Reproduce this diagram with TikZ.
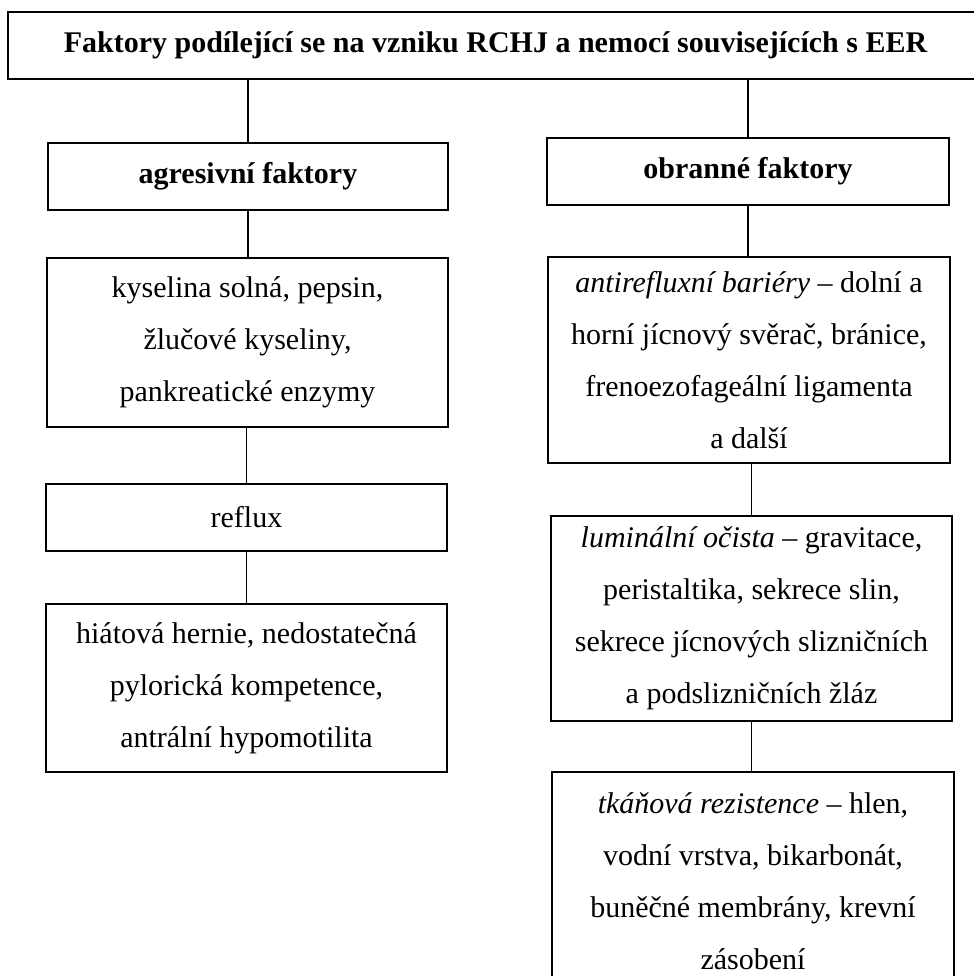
\documentclass[tikz,border=0pt]{standalone}
\usepackage{fontspec}
\setmainfont{Liberation Serif}

\tikzset{
  box/.style={draw, line width=0.8pt, inner sep=0pt, align=center,
    font=\fontsize{12}{20.8}\selectfont},
  conn/.style={line width=0.5pt}
}

\begin{document}
\begin{tikzpicture}[x=0.4pt,y=-0.4pt]
\useasboundingbox (0,0) rectangle (974,976);

\node[box, font=\fontsize{12}{20.8}\selectfont\bfseries,
  minimum width=390pt, minimum height=26.8pt] (title) at (495.5,45.5)
  {Faktory podílející se na vzniku RCHJ a nemocí souvisejících s EER};

% agresivni faktory
\node[box, font=\fontsize{12}{20.8}\selectfont\bfseries,
  minimum width=160pt, minimum height=26.8pt] (aggr) at (248,176.5)
  {agresivní faktory};
\node[box, minimum width=160.4pt, minimum height=67.6pt] (aggrA) at (247.5,342.5)
  {kyselina solná, pepsin,\\ žlučové kyseliny,\\ pankreatické enzymy};
\node[box, minimum width=160.4pt, minimum height=26.8pt] (aggrB) at (246.5,517.5)
  {reflux};
\node[box, minimum width=160.4pt, minimum height=67.2pt] (aggrC) at (246.5,688)
  {hiátová hernie, nedostatečná\\ pylorická kompetence,\\ antrální hypomotilita};

% obranne faktory
\node[box, font=\fontsize{12}{20.8}\selectfont\bfseries,
  minimum width=160.8pt, minimum height=26.8pt] (def) at (748,171.5)
  {obranné faktory};
\node[box, minimum width=160.8pt, minimum height=82.4pt] (defA) at (749,360)
  {\textit{antirefluxní bariéry} – dolní a\\ horní jícnový svěrač, bránice,\\
   frenoezofageální ligamenta\\ a další};
\node[box, minimum width=160.4pt, minimum height=82pt] (defB) at (751.5,618.5)
  {\textit{luminální očista} – gravitace,\\ peristaltika, sekrece slin,\\
   sekrece jícnových slizničních\\ a podslizničních žláz};
\node[box, minimum width=160.8pt, minimum height=87.2pt] (defC) at (753,881)
  {\textit{tkáňová rezistence} – hlen,\\ vodní vrstva, bikarbonát,\\
   buněčné membrány, krevní\\ zásobení};

\draw[conn] (aggr.north) -- (aggr.north |- title.south);
\draw[conn] (def.north) -- (def.north |- title.south);
\draw[conn] (aggr.south) -- (aggr.south |- aggrA.north);
\draw[conn] (aggrB.north) -- (aggrB.north |- aggrA.south);
\draw[conn] (aggrB.south) -- (aggrC.north);
\draw[conn] (def.south) -- (def.south |- defA.north);
\draw[conn] (defB.north) -- (defB.north |- defA.south);
\draw[conn] (defB.south) -- (defB.south |- defC.north);
\end{tikzpicture}
\end{document}
